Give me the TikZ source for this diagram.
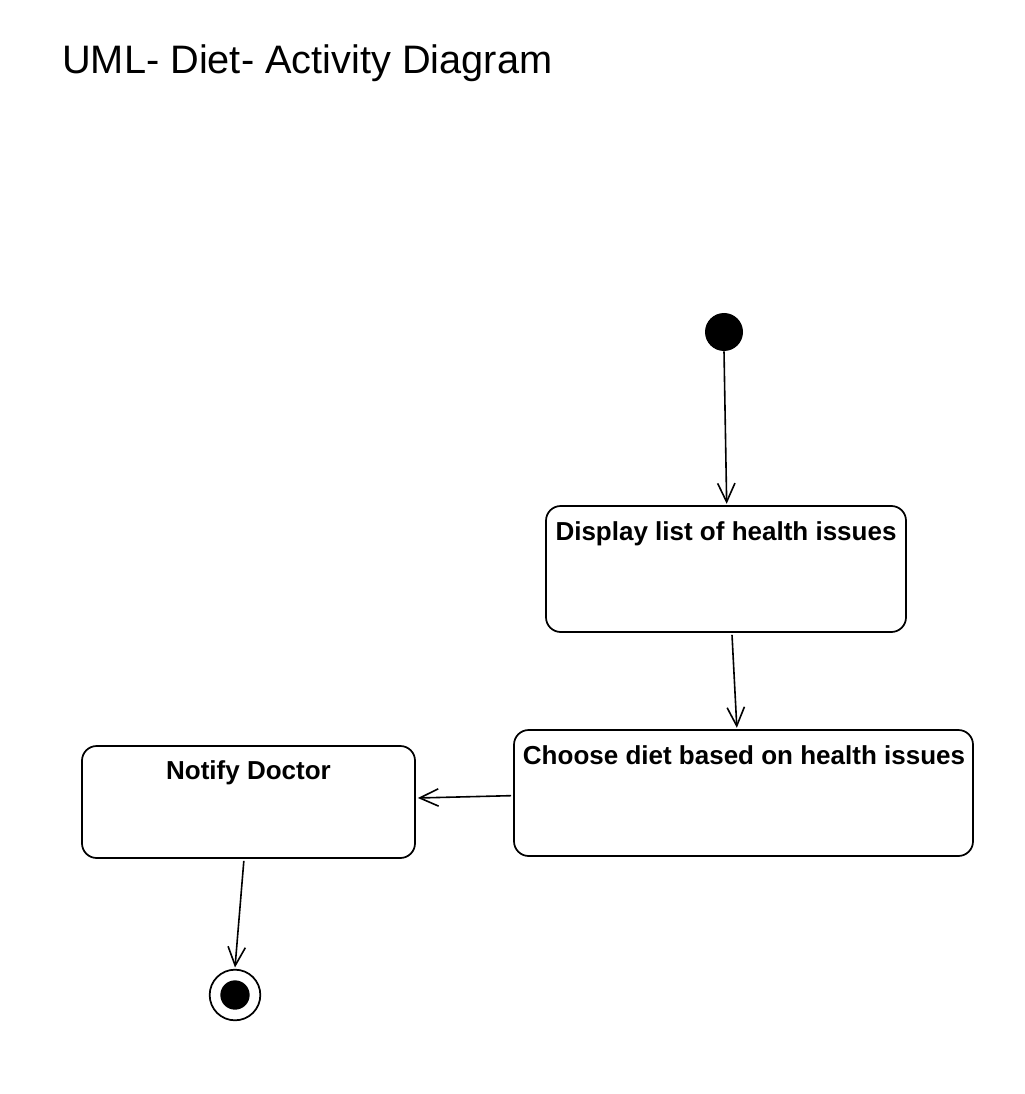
\documentclass[tikz,border=0pt]{standalone}
\usepackage{fontspec}
\setmainfont{Liberation Sans}
\usetikzlibrary{arrows.meta}

\begin{document}
\begin{tikzpicture}[x=0.75pt,y=0.75pt,yscale=-1,xscale=1,
  actbox/.style={draw, line width=1.3pt, rounded corners=11pt, fill=white},
  acttext/.style={font=\fontsize{19.5pt}{22pt}\selectfont\bfseries, inner sep=0pt},
  flow/.style={line width=1.2pt, -{Straight Barb[length=14pt,width=13pt,line width=1.2pt]}}]
%set diagram size
\useasboundingbox (0,0) rectangle (1024,1094);

% Text Node
\node [anchor=base west, inner sep=0pt, font=\fontsize{29.8pt}{34pt}\selectfont] (title) at (62,74) {UML- Diet- Activity Diagram};

%Shape: Circle (start)
\node [circle, fill=black, minimum size=28.5pt, inner sep=0pt] (start) at (724,332) {};

%Shape: Rounded Rect
\node [actbox, minimum width=270pt, minimum height=94.5pt] (disp) at (726,569) {};
\node [acttext, anchor=base] (disptxt) at (726,540) {Display list of health issues};

%Shape: Rounded Rect
\node [actbox, minimum width=344.25pt, minimum height=94.5pt] (choose) at (743.5,793) {};
\node [acttext, anchor=base] (choosetxt) at (744,764) {Choose diet based on health issues};

%Shape: Rounded Rect
\node [actbox, minimum width=249.75pt, minimum height=84pt] (notify) at (248.5,802) {};
\node [acttext, anchor=base] (notifytxt) at (248.5,779) {Notify Doctor};

%Shape: Circle (end)
\node [circle, draw, line width=1.3pt, minimum size=38pt, inner sep=0pt] (stop) at (235,995) {};
\node [circle, fill=black, minimum size=22pt, inner sep=0pt] (stopdot) at (stop) {};

%Straight Lines
\draw [flow] (start.south) -- ([xshift=0.5pt,yshift=-1pt]disp.north);
%Straight Lines
\draw [flow] ([xshift=4.5pt,yshift=1.5pt]disp.south) -- ([xshift=-5pt,yshift=-1pt]choose.north);
%Straight Lines
\draw [flow] ([xshift=-1.5pt,yshift=2pt]choose.west) -- ([xshift=1.5pt,yshift=-3pt]notify.east);
%Straight Lines
\draw [flow] ([xshift=-3.5pt,yshift=1.5pt]notify.south) -- ([yshift=-1pt]stop.north);

\end{tikzpicture}
\end{document}
